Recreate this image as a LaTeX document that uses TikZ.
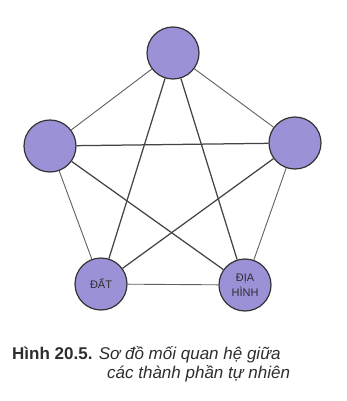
\documentclass[tikz,border=0pt]{standalone}
\usepackage{fontspec}
\setmainfont{Liberation Sans}
\definecolor{discfill}{HTML}{9B91D7}
\definecolor{discline}{HTML}{333333}
\definecolor{linkline}{HTML}{444444}
\definecolor{captext}{HTML}{2E2E2E}
\begin{document}
\begin{tikzpicture}[x=1pt,y=-1pt,
  disc/.style={circle,draw=discline,line width=1.2pt,fill=discfill,minimum size=52pt,inner sep=0pt,
    font=\fontsize{11}{14.5}\selectfont,text=captext,align=center},
  outer/.style={draw=linkline!85,line width=0.9pt},
  inner/.style={draw=linkline,line width=1.25pt}]
\useasboundingbox (0,0) rectangle (347,401);
% the five components
\node[disc] (t) at (173,53) {};
\node[disc] (l) at (50,146) {};
\node[disc] (r) at (295,143) {};
\node[disc] (d) at (101,284) {ĐẤT};
\node[disc] (h) at (245,285) {ĐỊA\\HÌNH};
% pentagon sides
\draw[outer] (t) -- (l);
\draw[outer] (t) -- (r);
\draw[outer] (l) -- (d);
\draw[outer] (r) -- (h);
\draw[outer] (d) -- (h);
% star diagonals
\draw[inner] (l) -- (r);
\draw[inner] (t) -- (d);
\draw[inner] (t) -- (h);
\draw[inner] (l) -- (h);
\draw[inner] (r) -- (d);
% caption
\node[anchor=base west,inner sep=0pt,text=captext,font=\fontsize{17}{19}\selectfont] (cap1) at (12,359)
  {\textbf{Hình 20.5.} \textit{Sơ đồ mối quan hệ giữa}};
\node[anchor=base west,inner sep=0pt,text=captext,font=\fontsize{17}{19}\selectfont\itshape] (cap2) at (107,378)
  {các thành phần tự nhiên};
\end{tikzpicture}
\end{document}
